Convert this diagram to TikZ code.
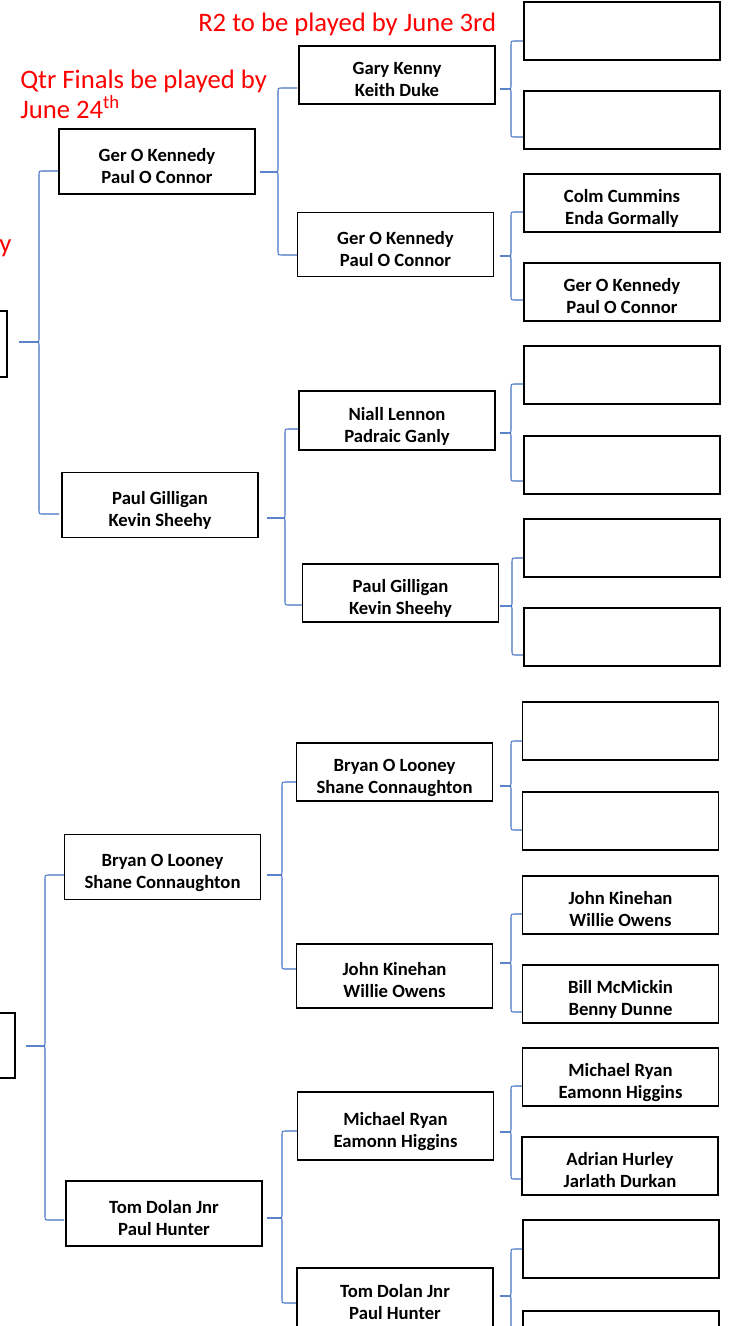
\documentclass[tikz,border=0pt]{standalone}
\usepackage{fontspec}
\setmainfont{Carlito}
\usepackage{tikz}
\definecolor{braceblue}{RGB}{68,114,196}
\definecolor{notered}{RGB}{255,0,0}

% curly bracket: tip x, stem x, end x, top y, tip y, bottom y
\newcommand{\roundbrace}[6]{%
  \draw[bracket] (#3,#4) -- (#2+4,#4) .. controls (#2,#4) .. (#2,#4+4) -- (#2,#5-4)
    .. controls (#2,#5) .. (#2-4,#5) -- (#1,#5);
  \draw[bracket] (#1,#5) -- (#2-4,#5) .. controls (#2,#5) .. (#2,#5+4) -- (#2,#6-4)
    .. controls (#2,#6) .. (#2+4,#6) -- (#3,#6);}

\begin{document}
\begin{tikzpicture}[x=0.75pt, y=-0.75pt,
    teambox/.style={draw, line width=1.2pt, fill=white, inner sep=0pt, align=center,
      font=\bfseries\fontsize{14}{16.5}\selectfont, text height=32.5pt, text depth=0pt},
    firstround/.style={teambox, minimum width=147pt, minimum height=43.5pt},
    secondround/.style={teambox, minimum width=147pt, minimum height=43.5pt},
    quarterbox/.style={teambox, minimum width=147pt, minimum height=48.75pt},
    semibox/.style={teambox, minimum width=30pt, minimum height=49pt},
    bracket/.style={braceblue, line width=0.8pt},
    note/.style={notered, inner sep=0pt, anchor=base west, font=\fontsize{20}{24}\selectfont}]
    \useasboundingbox (0,0) rectangle (730,1326);

    % Notes
    \node[note] (r2note) at (198,32) {R2 to be played by June 3rd};
    \node[note] (qfnote) at (20,89) {Qtr Finals be played by};
    \node[note] (qfdate) at (20,119) {June 24\textsuperscript{th}};
    \node[note] (sfnote) at (-1,253) {y};

    % Brackets
    \roundbrace{19}{39}{59}{171}{342}{514}
    \roundbrace{26}{45}{64}{875}{1046}{1220}
    \roundbrace{260}{278}{297}{88}{172}{255}
    \roundbrace{267}{285}{302}{429}{518}{605}
    \roundbrace{267}{282}{297}{782}{875}{969}
    \roundbrace{267}{282}{298}{1131}{1218}{1303}
    \roundbrace{500}{511}{523}{41}{89}{137}
    \roundbrace{500}{511}{523}{212}{256}{300}
    \roundbrace{500}{511}{523}{384}{433}{481}
    \roundbrace{500}{512}{523}{558}{606}{655}
    \roundbrace{500}{511}{523}{741}{786}{830}
    \roundbrace{500}{511}{523}{914}{963}{1012}
    \roundbrace{500}{511}{522}{1086}{1132}{1179}
    \roundbrace{500}{511}{522}{1249}{1296}{1343}

    % Semi finals
    \node[semibox, minimum height=49.5pt] (sf1) at (-13,344) {};
    \node[semibox, minimum height=48.75pt] (sf2) at (-5,1045.5) {};

    % Quarter finals
    \node[quarterbox] (qf1) at (157,161.5) {Ger O Kennedy\\Paul O Connor};
    \node[quarterbox] (qf2) at (160,505) {Paul Gilligan\\Kevin Sheehy};
    \node[quarterbox] (qf3) at (162.5,867) {Bryan O Looney\\Shane Connaughton};
    \node[quarterbox] (qf4) at (164,1213.5) {Tom Dolan Jnr\\Paul Hunter};

    % Round 2
    \node[secondround] (rb1) at (397,75) {Gary Kenny\\Keith Duke};
    \node[secondround, minimum height=48pt] (rb2) at (395.5,244.5) {Ger O Kennedy\\Paul O Connor};
    \node[secondround, minimum height=44.25pt] (rb3) at (397,420.5) {Niall Lennon\\Padraic Ganly};
    \node[secondround] (rb4) at (400.5,593) {Paul Gilligan\\Kevin Sheehy};
    \node[secondround] (rb5) at (394.5,772) {Bryan O Looney\\Shane Connaughton};
    \node[secondround, minimum height=48pt] (rb6) at (394.5,976) {John Kinehan\\Willie Owens};
    \node[secondround, minimum height=51pt] (rb7) at (395.5,1126) {Michael Ryan\\Eamonn Higgins};
    \node[secondround, minimum height=45pt] (rb8) at (395,1298) {Tom Dolan Jnr\\Paul Hunter};

    % Round 1
    \node[firstround] (ra1) at (622,31) {};
    \node[firstround] (ra2) at (622,120) {};
    \node[firstround] (ra3) at (622,203) {Colm Cummins\\Enda Gormally};
    \node[firstround] (ra4) at (622,292) {Ger O Kennedy\\Paul O Connor};
    \node[firstround] (ra5) at (622,375) {};
    \node[firstround] (ra6) at (622,465) {};
    \node[firstround] (ra7) at (622,548) {};
    \node[firstround] (ra8) at (622,637) {};
    \node[firstround] (ra9) at (620.5,731) {};
    \node[firstround] (ra10) at (620.5,821) {};
    \node[firstround] (ra11) at (620.5,905) {John Kinehan\\Willie Owens};
    \node[firstround] (ra12) at (620.5,994) {Bill McMickin\\Benny Dunne};
    \node[firstround] (ra13) at (620.5,1077) {Michael Ryan\\Eamonn Higgins};
    \node[firstround] (ra14) at (620,1166) {Adrian Hurley\\Jarlath Durkan};
    \node[firstround] (ra15) at (621,1249) {};
    \node[firstround] (ra16) at (621,1340) {};
\end{tikzpicture}
\end{document}
